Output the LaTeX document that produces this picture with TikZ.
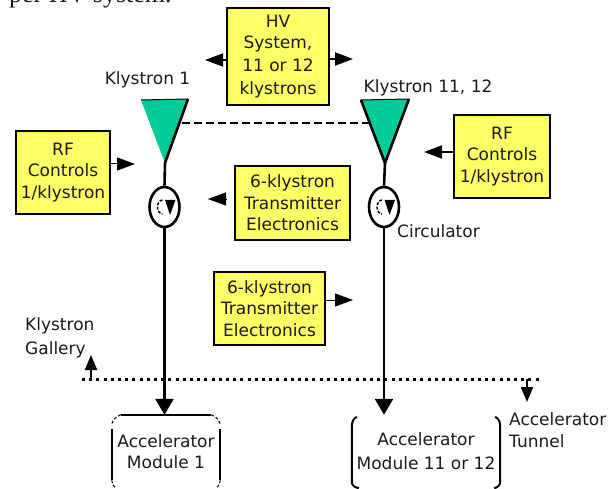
\documentclass[tikz,border=0pt]{standalone}
\usepackage{fontspec}
\setmainfont{DejaVu Sans}
\newfontfamily\serifcut{Liberation Serif}
\usetikzlibrary{arrows.meta,calc,shapes.geometric}
\definecolor{boxyellow}{HTML}{FFFF66}
\definecolor{klygreen}{HTML}{00CC99}
\definecolor{inktext}{HTML}{1A1A1A}
\tikzset{
  ybox/.style={draw=black,line width=2.6pt,fill=boxyellow,inner sep=0pt,align=center,text=inktext,font=\fontsize{17}{21.5}\selectfont},
  lbl/.style={inner sep=0pt,text=inktext,font=\fontsize{17}{21.5}\selectfont},
  wire/.style={line width=2.6pt,draw=black},
  harrow/.style={line width=2pt,-{Triangle[length=18pt,width=13pt]}},
  bigarrow/.style={line width=2.6pt,-{Triangle[length=16pt,width=18pt]}},
  smallarrow/.style={line width=2pt,-{Triangle[length=15pt,width=12pt]}},
  circ/.style={draw=black,line width=2.6pt,fill=white,ellipse,minimum width=30pt,minimum height=40pt,inner sep=0pt},
  modbox/.style={inner sep=0pt,align=center,text=inktext,font=\fontsize{17}{21.5}\selectfont},
  modline/.style={line width=2pt,draw=black},
  modthin/.style={line width=1pt,draw=black,densely dashed},
}
\begin{document}
\begin{tikzpicture}[x=1pt,y=-1pt]
\useasboundingbox (0,0) rectangle (613,489);
\clip (0,0) rectangle (613,489);
% caption fragment cut off by the top edge
\node[anchor=base west,inner sep=0pt,font=\serifcut\fontsize{26}{26}\selectfont,text=inktext] (cap) at (9,3) {per HV system.};
% boxes
\node[ybox,minimum width=102pt,minimum height=97pt] (hv) at (278,56.5) {\raisebox{-1.5pt}{HV}\\[1.5pt]System,\\[1.5pt]11 or 12\\[1.5pt]klystrons};
\node[ybox,minimum width=94pt,minimum height=83pt] (rfl) at (63,172.5) {RF\\Controls\\1/klystron};
\node[ybox,minimum width=96pt,minimum height=83pt] (rfr) at (502,156.5) {RF\\Controls\\1/klystron};
\node[ybox,minimum width=115pt,minimum height=74pt] (tea) at (292.5,203) {6-klystron\\Transmitter\\Electronics};
\node[ybox,minimum width=111pt,minimum height=73pt] (teb) at (269.5,308.5) {6-klystron\\Transmitter\\Electronics};
% klystrons
\coordinate (ka) at (141,100); \coordinate (kb) at (188,99); \coordinate (kt) at (165,163);
\coordinate (la) at (361,100); \coordinate (lb) at (409,99); \coordinate (lt) at (385,163);
\fill[klygreen] (ka) -- (kb) -- (kt) -- cycle;
\fill[klygreen] (la) -- (lb) -- (lt) -- cycle;
\draw[line width=1pt] (ka) -- (kb);
\draw[line width=2.6pt] (kb) -- (kt);
\draw[line width=1pt] (la) -- (lb);
\draw[line width=2.6pt] (la) -- (lt) -- (lb);
\coordinate (da) at (182,123);
\coordinate (db) at (369,123);
\draw[line width=2.6pt,dash pattern=on 8pt off 4pt] (da) -- (db);
% circulators
\node[circ] (ca) at (164.5,207) {};
\node[circ] (cb) at (384,207) {};
\foreach \c in {ca,cb}{
  \draw[line width=1.4pt,dash pattern=on 3pt off 1.5pt] ($(\c)+(-2,-7)$) arc (270:90:5 and 7);
  \fill ($(\c)+(0.5,-7)$) -- ($(\c)+(11,-7)$) -- ($(\c)+(5.5,8)$) -- cycle;
}
% module outlines
\node[modbox,minimum width=108pt,minimum height=73pt] (ma) at (166,451.5) {Accelerator\\Module 1};
\node[modbox,minimum width=148pt,minimum height=73pt] (mb) at (426,451.5) {Accelerator\\[2.5pt]Module 11 or 12};
\draw[modline] ($(ma.north west)+(9,0)$) -- ($(ma.north east)+(-9,0)$);
\draw[modline] ($(ma.north west)+(0,14)$) -- ($(ma.south west)+(0,-8)$);
\draw[modline] ($(ma.north east)+(0,14)$) -- ($(ma.south east)+(0,-8)$);
\draw[modthin] ($(ma.north west)+(9,0)$) to[bend right=25] ($(ma.north west)+(0,9)$);
\draw[modthin] ($(ma.north east)+(-9,0)$) to[bend left=25] ($(ma.north east)+(0,9)$);
\draw[modthin] ($(ma.south west)+(0,-8)$) to[bend right=25] ($(ma.south west)+(4,0)$);
\draw[modthin] ($(ma.south east)+(0,-8)$) to[bend left=25] ($(ma.south east)+(-4,0)$);
\draw[modline] ($(mb.north west)+(5,2)$) .. controls ($(mb.north west)+(1,4)$) and ($(mb.north west)+(0,8)$) .. ($(mb.north west)+(0,12)$) -- ($(mb.south west)+(0,-7)$) .. controls ($(mb.south west)+(0,-3)$) and ($(mb.south west)+(2,-1)$) .. ($(mb.south west)+(7,0)$);
\draw[modline] ($(mb.north east)+(-5,2)$) .. controls ($(mb.north east)+(-1,4)$) and ($(mb.north east)+(0,8)$) .. ($(mb.north east)+(0,12)$) -- ($(mb.south east)+(0,-7)$) .. controls ($(mb.south east)+(0,-3)$) and ($(mb.south east)+(-2,-1)$) .. ($(mb.south east)+(-6,0)$);
% boundary
\coordinate (ba) at (82,379); \coordinate (bb) at (541,379);
\draw[line width=3pt,dash pattern=on 3pt off 4.2pt] (ba) -- (bb);
% main lines
\draw[wire] (kt) -- (ca.north);
\draw[wire] (lt) -- (cb.north);
\draw[bigarrow] (ca.south) -- (ca.south |- ma.north);
\draw[bigarrow] (cb.south) -- (cb.south |- mb.north);
% free-end targets
\coordinate (hvl) at (205,60); \coordinate (hvr) at (353,59);
\coordinate (rflt) at (135,164); \coordinate (rfrt) at (424,152);
\coordinate (teat) at (208,199); \coordinate (teas) at (226,199);
\coordinate (tebt) at (353,300);
\coordinate (gb) at (91,379); \coordinate (gt) at (91,355);
\coordinate (tb) at (527,379); \coordinate (tt) at (527,402);
\draw[harrow] (hv.west |- hvl) -- (hvl);
\draw[harrow] (hv.east |- hvr) -- (hvr);
\draw[harrow,line width=1pt] (rfl.east |- rflt) -- (rflt);
\draw[harrow] (rfr.west |- rfrt) -- (rfrt);
\draw[-{Triangle[length=18pt,width=13pt]},line width=.1pt] (teas) -- (teat);
\draw[harrow,line width=1pt] (teb.east |- tebt) -- (tebt);
\draw[smallarrow] (gb) -- (gt);
\draw[smallarrow] (tb) -- (tt);
% labels
\node[lbl,anchor=base] (l1) at (147.5,85) {Klystron 1};
\node[lbl,anchor=base west] (l2) at (363.5,93) {Klystron 11, 12};
\node[lbl,anchor=base west] (l3) at (397,237) {Circulator};
\node[lbl,anchor=base west,align=left] (l4) at (25,354) {Klystron\\[2.5pt]Gallery};
\node[lbl,anchor=base west,align=left] (l5) at (509,447) {Accelerator\\Tunnel};
\end{tikzpicture}
\end{document}
